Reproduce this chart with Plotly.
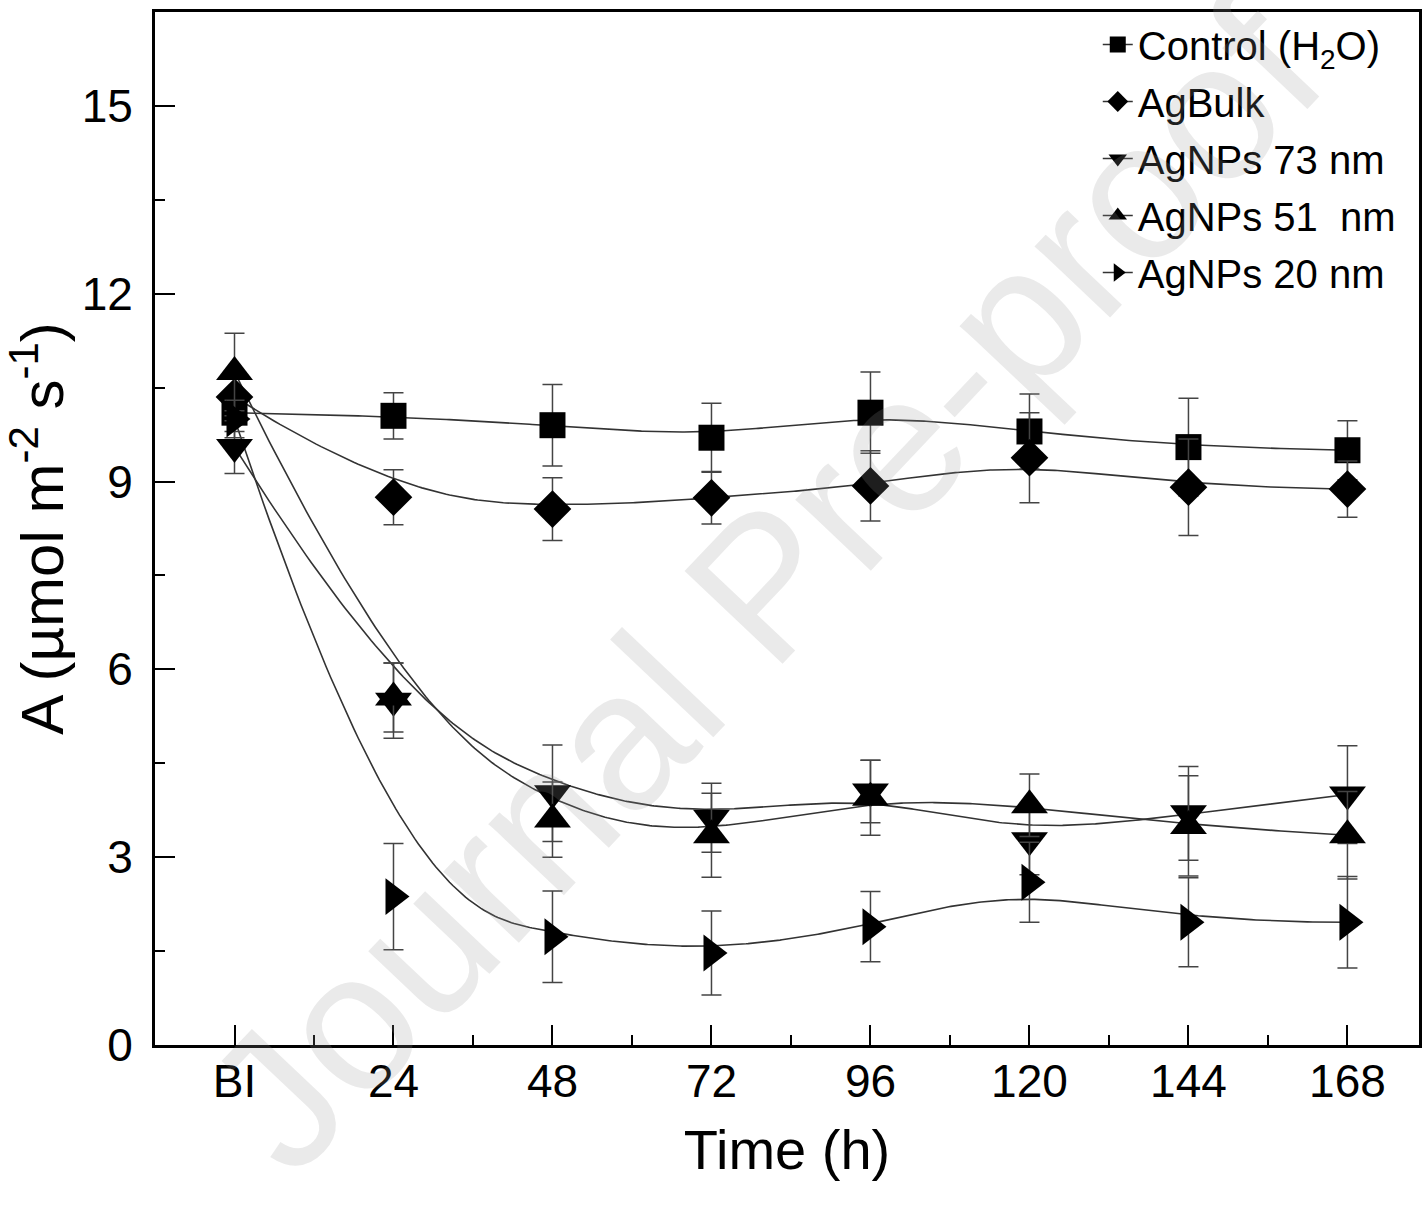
import numpy as np
import plotly.graph_objects as go

# ---------------- data ----------------
categories = ["BI", "24", "48", "72", "96", "120", "144", "168"]

control = [10.10, 10.05, 9.90, 9.70, 10.10, 9.80, 9.55, 9.50]
control_err = [0.30, 0.37, 0.65, 0.55, 0.65, 0.60, 0.78, 0.47]

agbulk = [10.35, 8.75, 8.56, 8.74, 8.93, 9.38, 8.91, 8.88]
agbulk_err = [0.30, 0.44, 0.50, 0.42, 0.56, 0.72, 0.77, 0.45]

ag73 = [9.55, 5.50, 4.02, 3.63, 4.05, 3.27, 3.70, 4.00]
ag73_err = [0.42, 0.60, 0.77, 0.55, 0.50, 0.55, 0.75, 0.78]

ag51 = [10.75, 5.55, 3.60, 3.35, 3.95, 3.83, 3.50, 3.35]
ag51_err = [0.62, 0.55, 0.60, 0.67, 0.60, 0.50, 0.80, 0.70]

ag20 = [10.00, 2.37, 1.73, 1.47, 1.89, 2.60, 1.96, 1.96]
ag20_err = [0.30, 0.85, 0.73, 0.67, 0.56, 0.64, 0.71, 0.73]

series_names = ["Control (H<sub>2</sub>O)", "AgBulk", "AgNPs 73 nm", "AgNPs 51  nm", "AgNPs 20 nm"]
series_vals = [control, agbulk, ag73, ag51, ag20]
series_errs = [control_err, agbulk_err, ag73_err, ag51_err, ag20_err]
symbols = ["square", "diamond", "triangle-down", "triangle-up", "triangle-right"]
sizes = [26, 29, 32, 32, 32]

x_idx = list(range(len(categories)))


def bspline_curve(px, py, k=3, num=400):
    """Clamped uniform cubic B-spline through control points (Origin-style B-spline)."""
    P = np.column_stack([px, py]).astype(float)
    m = len(P)
    knots = np.concatenate([np.zeros(k), np.linspace(0, 1, m - k + 1), np.ones(k)])
    t = np.linspace(0, 1 - 1e-9, num)
    N = np.array([((knots[i] <= t) & (t < knots[i + 1])).astype(float)
                  for i in range(len(knots) - 1)])
    for d in range(1, k + 1):
        Nn = np.zeros((len(knots) - 1 - d, num))
        for i in range(len(knots) - 1 - d):
            den1 = knots[i + d] - knots[i]
            den2 = knots[i + d + 1] - knots[i + 1]
            a = (t - knots[i]) / den1 * N[i] if den1 > 0 else 0
            b = (knots[i + d + 1] - t) / den2 * N[i + 1] if den2 > 0 else 0
            Nn[i] = a + b
        N = Nn
    C = N.T @ P
    return C[:, 0], C[:, 1]


LINE_C = "#333333"
fig = go.Figure()

# smooth connecting curves
for vals in series_vals:
    cx, cy = bspline_curve(x_idx, vals)
    fig.add_trace(go.Scatter(x=cx, y=cy, mode="lines", showlegend=False,
                             line=dict(color=LINE_C, width=1.6), hoverinfo="skip"))

# markers with error bars
for name, vals, errs, sym, sz in zip(series_names, series_vals, series_errs, symbols, sizes):
    fig.add_trace(go.Scatter(
        x=x_idx, y=vals, mode="markers", showlegend=False, name=name,
        marker=dict(symbol=sym, size=sz, color="black", line=dict(width=0)),
        error_y=dict(type="data", array=errs, visible=True, color="#444444",
                     thickness=1.5, width=10),
    ))

# legend entries (line + marker)
for i, (name, sym) in enumerate(zip(series_names, symbols)):
    fig.add_trace(go.Scatter(
        x=[None], y=[None], mode="lines+markers", name=name, legendgroup=f"g{i}",
        marker=dict(symbol=sym, size=16, color="black"),
        line=dict(color=LINE_C, width=1.6),
    ))

# watermark
fig.add_annotation(text="Journal Pre-proof", xref="paper", yref="paper",
                   x=(765 - 155) / 1267, y=(1045 - 585) / 1033,
                   showarrow=False, textangle=-46.6,
                   font=dict(family="Liberation Sans, Arial", size=196,
                             color="rgba(150,150,150,0.2)"))

FONT = "Liberation Sans, Arial, sans-serif"
fig.update_layout(
    width=1427, height=1209,
    margin=dict(l=155, r=5, t=12, b=164),
    paper_bgcolor="white", plot_bgcolor="white",
    font=dict(family=FONT, color="black"),
    showlegend=True,
    legend=dict(x=(1100 - 155) / 1267, y=1.0, xanchor="left", yanchor="top",
                bgcolor="rgba(0,0,0,0)", font=dict(size=40, family=FONT),
                traceorder="grouped", tracegroupgap=2, itemsizing="trace"),
    xaxis=dict(
        range=[-0.5, 7.45], tickmode="array", tickvals=x_idx, ticktext=categories,
        showgrid=False, zeroline=False, showline=True, linecolor="black",
        linewidth=3, mirror=True, ticks="inside", ticklen=20, tickwidth=2,
        tickcolor="black", tickfont=dict(size=46), ticklabelstandoff=-6,
        minor=dict(tickmode="linear", tick0=0.5, dtick=1, ticks="inside",
                   ticklen=10, tickwidth=2, tickcolor="black"),
        title=dict(text="Time (h)", font=dict(size=56), standoff=24),
    ),
    yaxis=dict(
        range=[0, 16.5], tickmode="linear", tick0=0, dtick=3,
        showgrid=False, zeroline=False, showline=True, linecolor="black",
        linewidth=3, mirror=True, ticks="inside", ticklen=20, tickwidth=2,
        tickcolor="black", tickfont=dict(size=46), ticklabelstandoff=10,
        minor=dict(tickmode="linear", tick0=0, dtick=1.5, ticks="inside",
                   ticklen=10, tickwidth=2, tickcolor="black"),
        title=dict(text="A (µmol m<sup>-2</sup> s<sup>-1</sup>)", font=dict(size=60), standoff=2),
    ),
)

fig.write_html("out.html")
